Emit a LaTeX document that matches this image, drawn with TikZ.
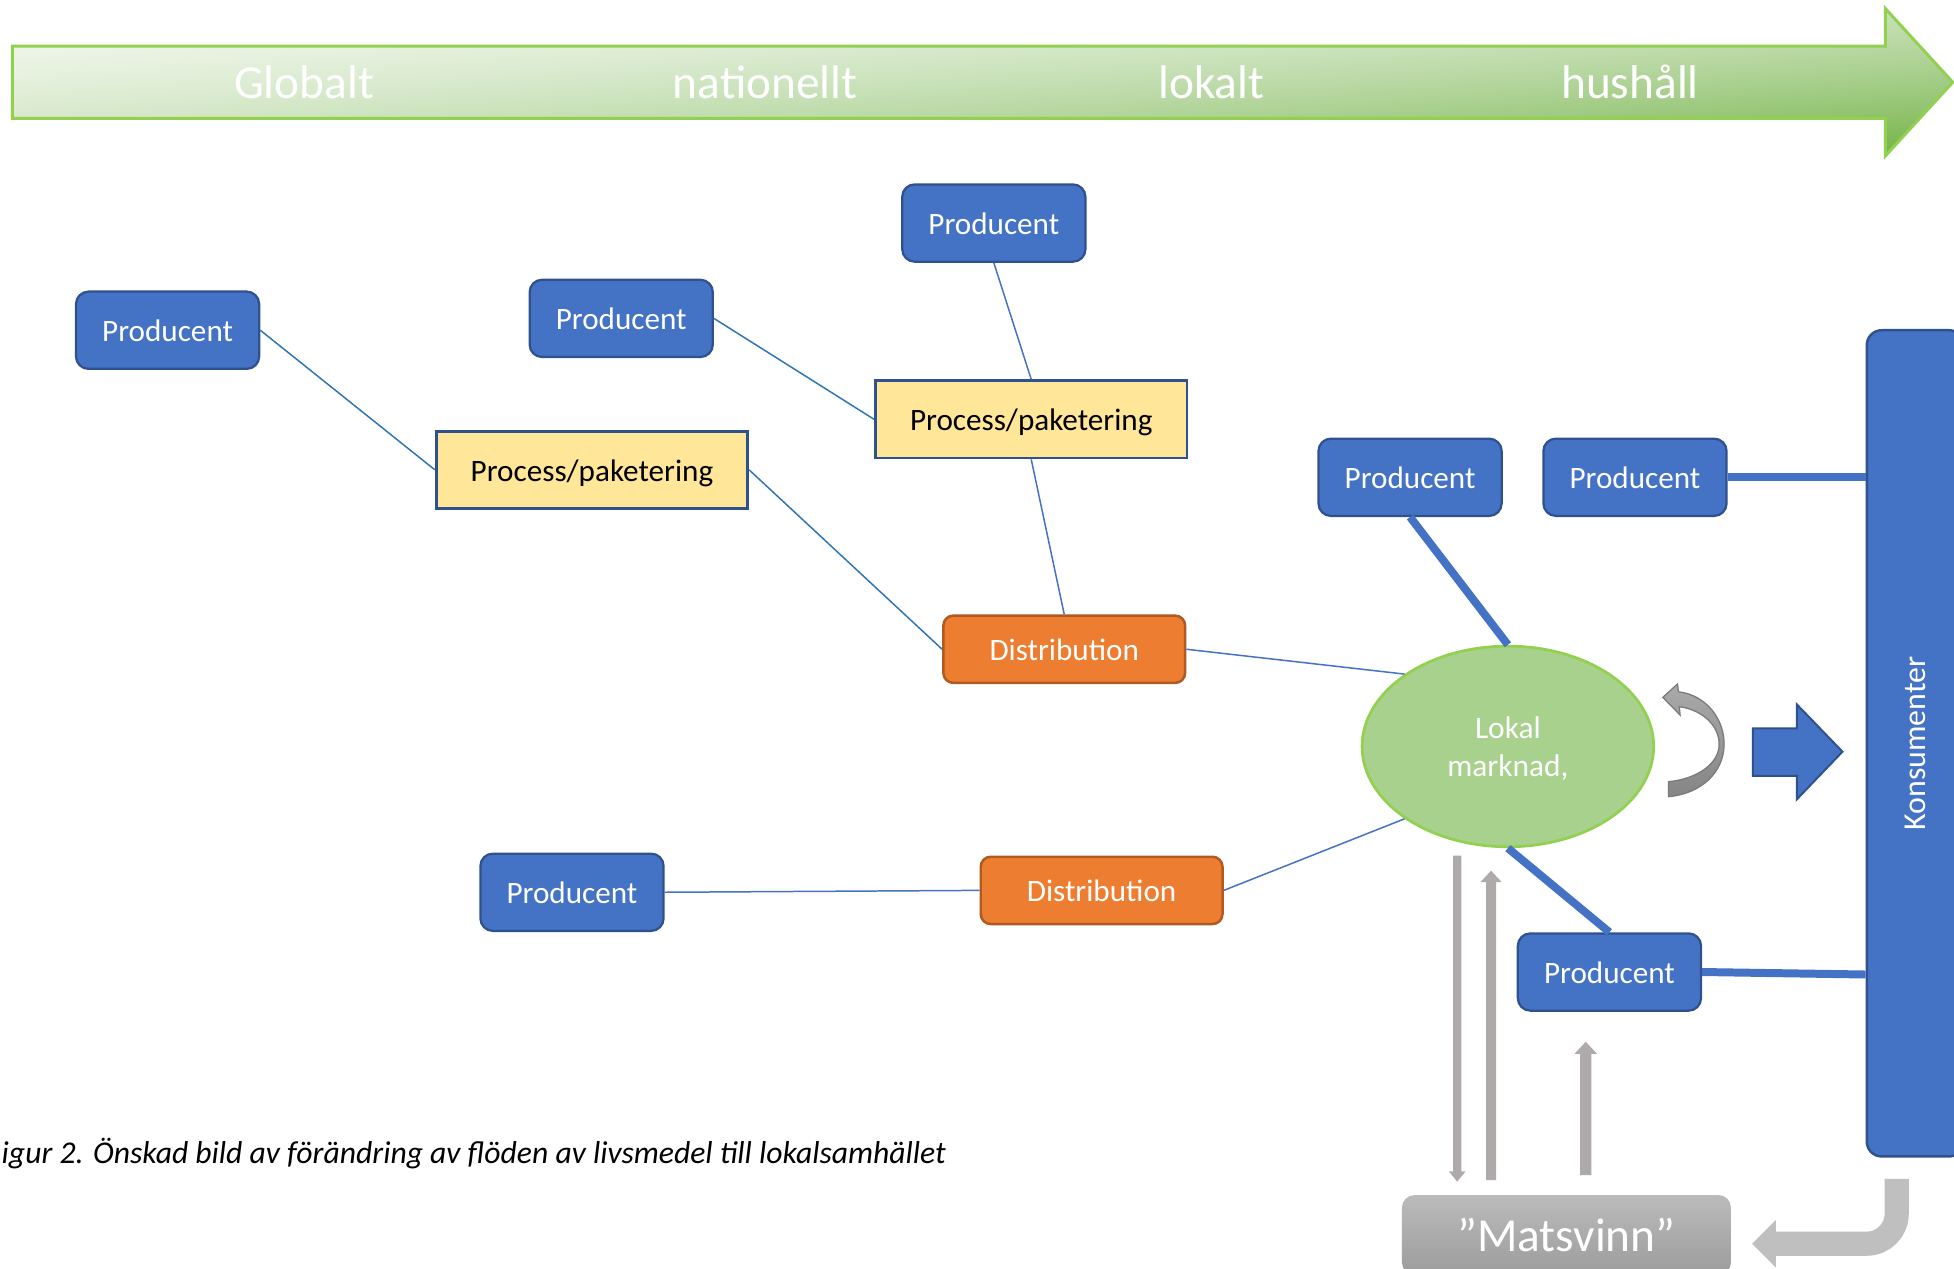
\documentclass[tikz,border=0pt]{standalone}
\usepackage{fontspec}
\setmainfont{Carlito}
\usetikzlibrary{shapes.geometric,calc}
\definecolor{bluefill}{HTML}{4472C4}
\definecolor{blueline}{HTML}{2F528F}
\definecolor{thinblue}{HTML}{4472C4}
\definecolor{thinteal}{HTML}{2E75B6}
\definecolor{yellowfill}{HTML}{FFE699}
\definecolor{orangefill}{HTML}{ED7D31}
\definecolor{orangeline}{HTML}{AE5A21}
\definecolor{greenfill}{HTML}{A9D18E}
\definecolor{greenline}{HTML}{92D050}
\definecolor{grayarrow}{HTML}{AEAAAA}
\definecolor{lightgrayarrow}{HTML}{BFBFBF}
\definecolor{curvelight}{HTML}{AAAAAA}
\definecolor{curvedark}{HTML}{858585}
\definecolor{curveline}{HTML}{7A7A7A}
\definecolor{matstop}{HTML}{BBBBBB}
\definecolor{matsbottom}{HTML}{9C9C9C}
\pgfdeclarefunctionalshading{bannershade}{\pgfpoint{0bp}{0bp}}{\pgfpoint{100bp}{100bp}}{}{
  75 exch sub exch 25 sub add 50 div 0.25 sub
  dup -0.25 lt {pop -0.25} if dup 1.75 gt {pop 1.75} if
  dup dup dup mul -19.47 mul exch -37.4 mul add 238 add 255 div
  exch
  dup dup dup mul -10.7 mul exch -20.0 mul add 245 add 255 div
  exch
  dup dup mul -28.99 mul exch -44.26 mul add 232 add 255 div
}
\begin{document}
\begin{tikzpicture}[x=0.5pt,y=-0.5pt,
  prod/.style={draw=blueline, fill=bluefill, line width=0.9pt, rounded corners=5pt,
    minimum width=73.5pt, minimum height=31pt, inner sep=0pt, text=white,
    text height=9pt, text depth=0pt,
    font=\fontsize{12.5}{15}\selectfont},
  proc/.style={draw=blueline, fill=yellowfill, line width=1.1pt,
    minimum width=125pt, minimum height=31pt, inner sep=0pt, text=black,
    text height=9pt, text depth=0pt,
    font=\fontsize{12.5}{15}\selectfont},
  dist/.style={draw=orangeline, fill=orangefill, line width=1pt, rounded corners=4pt,
    minimum width=97pt, minimum height=27pt, inner sep=0pt, text=white,
    text height=9pt, text depth=0pt,
    font=\fontsize{12.5}{15}\selectfont},
  thinA/.style={draw=thinteal, line width=0.6pt},
  thinB/.style={draw=thinblue, line width=0.6pt},
  thickline/.style={draw=bluefill, line width=3.2pt},
  bannertext/.style={text=white, inner sep=0pt, font=\fontsize{19}{22}\selectfont},
  grayup/.style={fill=grayarrow, draw=none}
]
\useasboundingbox (0,0) rectangle (1568,1017.57);

% banner arrow
\path[draw=greenline, line width=1.2pt, shading=bannershade, shading angle=0]
  (10,37) -- (1513,37) -- (1513,7) -- (1567,66) -- (1513,125) -- (1513,95) -- (10,95) -- cycle;
\node[bannertext] (tG) at (244,66) {Globalt};
\node[bannertext] (tN) at (614,66) {nationellt};
\node[bannertext] (tL) at (972,66) {lokalt};
\node[bannertext] (tH) at (1308,66) {hushåll};

% nodes
\node[prod] (P1) at (134.5,265) {Producent};
\node[prod] (P2) at (498.5,255.5) {Producent};
\node[prod] (P3) at (797.5,179) {Producent};
\node[proc] (PP1) at (475,377) {Process/paketering};
\node[proc] (PP2) at (827.5,336.5) {Process/paketering};
\node[dist] (D1) at (854,521) {Distribution};
\node[dist] (D2) at (884,714.5) {Distribution};
\node[prod] (P4) at (459,716) {Producent};
\node[prod] (P5) at (1131.5,383) {Producent};
\node[prod] (P6) at (1312,383) {Producent};
\node[prod] (P7) at (1291.5,780) {Producent};
\node[ellipse, draw=greenline, fill=greenfill, line width=1.1pt, minimum width=117pt,
  minimum height=80.5pt, inner sep=0pt, text=white, align=center, text depth=0pt,
  font=\fontsize{12.6}{15}\selectfont] (LM) at (1210,599) {Lokal\\marknad,};
\node[draw=blueline, fill=bluefill, line width=1pt, rounded corners=6pt,
  minimum width=39pt, minimum height=331.5pt, inner sep=0pt] (K) at (1537,596.5) {};
\node[rotate=90, text=white, inner sep=0pt, font=\fontsize{12.8}{15}\selectfont] (Kt) at (K.center) {Konsumenter};
\node[top color=matstop, bottom color=matsbottom, rounded corners=5pt,
  minimum width=132pt, minimum height=32pt, inner sep=0pt, text=white,
  font=\fontsize{19}{22}\selectfont] (M) at (1257,991) {”Matsvinn”};

% thin connectors
\draw[thinA] (P1.east) -- (PP1.west);
\draw[thinA] (P2.east) -- (PP2.west);
\draw[thinB] (P3.south) -- (PP2.north);
\draw[thinA] (PP1.east) -- (D1.west);
\draw[thinB] (PP2.south) -- (D1.north);
\draw[thinB] (D1.east) -- (LM.145);
\draw[thinB] (D2.east) -- (LM.215);
\draw[thinB] (P4.east) -- (D2.west);

% thick connectors
\draw[thickline] (P5.south) -- (LM.north);
\draw[thickline] (LM.south) -- (P7.north);
\draw[thickline] (P6.east) -- (P6.east -| K.west);
\draw[thickline] (P7.east) -- ([yshift=-1pt]P7.east -| K.west);

% curved gray arrow
\path[draw=curveline, line width=0.5pt, top color=curvelight, bottom color=curvedark]
  (1346.9,555.1) .. controls (1370,558) and (1384,578) .. (1383.5,598)
  .. controls (1383,620) and (1365,637) .. (1338.8,639.3)
  -- (1338.8,627.3) .. controls (1362,625) and (1379,613) .. (1379.5,598)
  .. controls (1380,584) and (1368,570) .. (1347.6,567.1)
  -- (1348.2,573.8) -- (1334.3,559.6) -- (1346.1,548.9) -- cycle;

% blue block arrow
\filldraw[fill=bluefill, draw=blueline, line width=0.8pt]
  (1406.5,584.5) -- (1441.8,584.5) -- (1441.8,565.2) -- (1478.5,603.2)
  -- (1441.8,641.5) -- (1441.8,622.7) -- (1406.5,622.7) -- cycle;

% gray vertical arrows
\path[grayup] (1166,686.6) -- (1172.6,686.6) -- (1172.6,940) -- (1176,940)
  -- (1169.3,948.2) -- (1162.6,940) -- (1166,940) -- cycle;
\path[grayup] (1192.5,947) -- (1200.5,947) -- (1200.5,707.8) -- (1205,707.8)
  -- (1196.5,698.7) -- (1188,707.8) -- (1192.5,707.8) -- cycle;
\path[grayup] (1268,943) -- (1277,943) -- (1277,845.7) -- (1281.6,845.7)
  -- (1272.5,836) -- (1263.4,845.7) -- (1268,845.7) -- cycle;

% bent arrow from Konsumenter to Matsvinn
\coordinate (bstart) at (1522,946);
\draw[draw=lightgrayarrow, line width=9.7pt, rounded corners=12pt]
  (bstart) -- (1522,998) -- (1425,998);
\fill[lightgrayarrow] (1425,979) -- (1406,998) -- (1425,1017) -- cycle;

% caption
\node[anchor=base west, inner sep=0pt, font=\itshape\fontsize{12.7}{15}\selectfont] (cap) at (1,934)
  {igur 2. Önskad bild av förändring av flöden av livsmedel till lokalsamhället};
\end{tikzpicture}
\end{document}
